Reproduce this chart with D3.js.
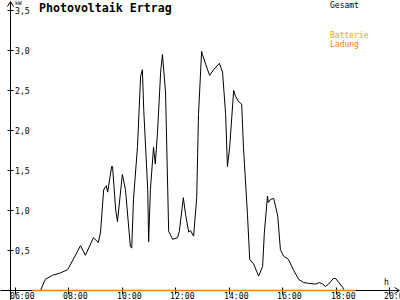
<!DOCTYPE html>
<html><head><meta charset="utf-8">
<script src="https://cdn.jsdelivr.net/npm/d3@7"></script>
<style>body{margin:0;background:#fff}svg{display:block}</style>
</head><body>
<script>
const title = "Photovoltaik Ertrag";
const yUnit = "kW";
const xUnit = "h";
const xTickLabels = ["06:00","08:00","10:00","12:00","14:00","16:00","18:00","20:00"];
const yTickValues = [0.5,1.0,1.5,2.0,2.5,3.0,3.5];
const yTickLabels = ["0,5","1,0","1,5","2,0","2,5","3,0","3,5"];
const legendNames = ["Gesamt","Batterie","Ladung"];
const legendColors = ["#000000","#f7a600","#ff8000"];

const gesamtTimes = ["06:38","06:56","07:07","07:23","07:41","07:57","08:04","08:26","08:37","08:55","09:06","09:11","09:18","09:24","09:27","09:36","09:38","09:45","09:49","10:00","10:07","10:18","10:21","10:25","10:34","10:41","10:45","10:48","10:57","10:59","11:03","11:10","11:14","11:19","11:26","11:30","11:37","11:44","11:53","12:04","12:08","12:17","12:22","12:29","12:33","12:40","12:47","12:51","12:58","13:00","13:07","13:16","13:25","13:38","13:45","13:52","13:56","14:01","14:10","14:14","14:21","14:28","14:32","14:41","14:46","14:55","15:06","15:15","15:19","15:26","15:28","15:33","15:40","15:49","15:55","16:02","16:13","16:24","16:36","16:47","16:58","17:14","17:23","17:30","17:36","17:43","17:54","17:59","18:06","18:15","18:17"];
const gesamtValues = [0,0,0.14,0.19,0.22,0.26,0.33,0.56,0.44,0.66,0.60,0.73,1.26,1.31,1.23,1.55,1.55,1.01,0.86,1.45,1.26,0.55,0.53,1.14,1.80,2.68,2.76,2.26,1.26,0.61,1.26,1.79,1.58,1.98,2.73,2.95,2.48,0.74,0.64,0.66,0.74,1.16,0.95,0.73,0.75,0.68,1.16,2.20,2.99,2.95,2.83,2.69,2.76,2.84,2.73,2.20,1.55,1.79,2.50,2.43,2.36,2.33,1.79,0.95,0.39,0.33,0.18,0.30,0.73,1.18,1.10,1.14,1.15,0.93,0.51,0.43,0.39,0.26,0.14,0.10,0.09,0.08,0.10,0.08,0.05,0.08,0.15,0.15,0.10,0.04,0.01];
const ladungTimes = ["06:38","18:44"];
const ladungValues = [0,0];

const toH = s => { const [h,m] = s.split(":").map(Number); return h + m/60; };

const W = 400, H = 300;
const svg = d3.select("body").append("svg").attr("width", W).attr("height", H);
const x = d3.scaleLinear().domain([6,20]).range([15,389]);
const y = d3.scaleLinear().domain([0,3.5]).range([290,10]);
const mono = "'DejaVu Sans Mono', monospace";

// axes
const g = svg.append("g").attr("transform","translate(0.5,0.5)");
g.append("line").attr("x1",10).attr("x2",10).attr("y1",2).attr("y2",300).attr("stroke","#000");
g.append("path").attr("d","M7,6L10,1L13,6").attr("fill","none").attr("stroke","#000");
g.append("line").attr("x1",0).attr("x2",398).attr("y1",y(0)).attr("y2",y(0)).attr("stroke","#000");
g.append("path").attr("d",`M394,${y(0)-3}L399,${y(0)}L394,${y(0)+3}`).attr("fill","none").attr("stroke","#000");

yTickValues.forEach((v,i)=>{
  g.append("line").attr("x1",7).attr("x2",13).attr("y1",Math.round(y(v))).attr("y2",Math.round(y(v))).attr("stroke","#000");
  svg.append("text").attr("x",15).attr("y",Math.round(y(v))+3.5).text(yTickLabels[i])
    .attr("font-family",mono).attr("font-size",8.2).attr("fill","#000");
});
xTickLabels.forEach(s=>{
  const xx = Math.round(x(toH(s)));
  g.append("line").attr("x1",xx).attr("x2",xx).attr("y1",y(0)-3).attr("y2",y(0)+4).attr("stroke","#000");
  svg.append("text").attr("x",xx-5).attr("y",299).text(s)
    .attr("font-family",mono).attr("font-size",8.2).attr("fill","#000");
});
svg.append("text").attr("x",15).attr("y",5).text(yUnit).attr("font-family",mono).attr("font-size",5.5).attr("fill","#000");
svg.append("text").attr("x",384).attr("y",285).text(xUnit).attr("font-family",mono).attr("font-size",8.2).attr("fill","#000");

// title
svg.append("text").attr("x",39).attr("y",12).text(title)
  .attr("font-family",mono).attr("font-weight","bold").attr("font-size",11.6).attr("fill","#000");

// legend
const legY = [8,38,47];
legendNames.forEach((n,i)=>{
  svg.append("text").attr("x",330).attr("y",legY[i]).text(n)
    .attr("font-family",mono).attr("font-size",8).attr("fill",legendColors[i]);
});

// series
const line = d3.line().x(d=>x(d[0])).y(d=>y(d[1]));
g.append("path").datum(gesamtTimes.map((t,i)=>[toH(t),gesamtValues[i]]))
  .attr("d",line).attr("fill","none").attr("stroke","#000").attr("stroke-width",1);
g.append("path").datum(ladungTimes.map((t,i)=>[toH(t),ladungValues[i]]))
  .attr("d",line).attr("fill","none").attr("stroke",legendColors[2]).attr("stroke-width",1.5);
</script>
</body></html>
